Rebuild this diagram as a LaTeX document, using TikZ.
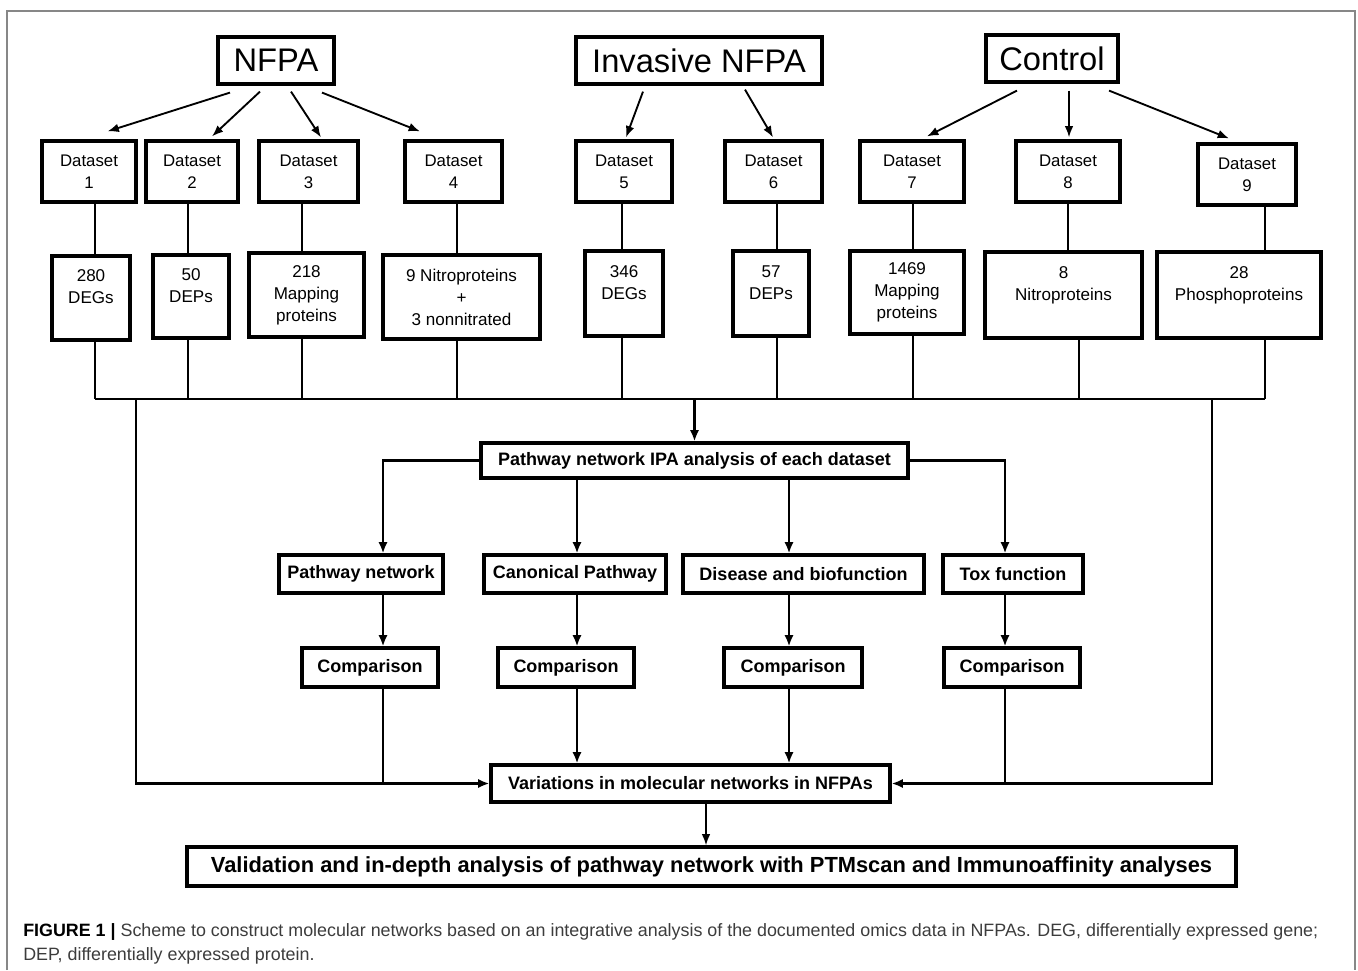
\documentclass[tikz,border=0pt]{standalone}
\usepackage{fontspec}
\setmainfont{Liberation Sans}
\usetikzlibrary{positioning,calc,arrows.meta}
\definecolor{framegray}{RGB}{135,135,135}
\definecolor{capgray}{RGB}{60,60,60}

\begin{document}
\begin{tikzpicture}[x=0.75pt,y=-0.75pt,
    box/.style={draw,line width=2.4pt,inner sep=0pt,align=center},
    group/.style={box,font=\fontsize{24.5}{29}\selectfont,minimum height=35.25pt},
    dset/.style={box,font=\fontsize{12.6}{16.5}\selectfont,minimum height=45.75pt},
    res/.style={box,font=\fontsize{12.8}{16.5}\selectfont},
    bbox/.style={box,font=\bfseries\fontsize{13.5}{16}\selectfont},
    link/.style={line width=2.2pt},
    arr/.style={link,-{Latex[length=8.5pt,width=7pt]}},
    thin/.style={line width=1.4pt,-{Latex[length=8.5pt,width=6.5pt]}}]
    \useasboundingbox (0,0) rectangle (1358,970);
    \draw[framegray,line width=1.5pt] (7,970) -- (7,11) -- (1355,11) -- (1355,970);

    \node[group,minimum width=87pt] (nfpa) at (276,60.5) {NFPA};
    \node[group,minimum width=184.5pt] (inv) at (699,60.5) {Invasive NFPA};
    \node[group,minimum width=99pt] (ctrl) at (1052,58.5) {Control};

    \node[dset,minimum width=70.5pt] (d1) at (89,171.5) {Dataset\\1};
    \node[dset,minimum width=69pt] (d2) at (192,171.5) {Dataset\\2};
    \node[dset,minimum width=74.25pt] (d3) at (308.5,171.5) {Dataset\\3};
    \node[dset,minimum width=72.75pt] (d4) at (453.5,171.5) {Dataset\\4};
    \node[dset,minimum width=72pt] (d5) at (624,171.5) {Dataset\\5};
    \node[dset,minimum width=72.75pt] (d6) at (773.5,171.5) {Dataset\\6};
    \node[dset,minimum width=78pt] (d7) at (912,171.5) {Dataset\\7};
    \node[dset,minimum width=78pt] (d8) at (1068,171.5) {Dataset\\8};
    \node[dset,minimum width=73.5pt] (d9) at (1247,174.5) {Dataset\\9};

    \node[res,minimum width=58.5pt,minimum height=63pt] (r1) at (91,298) {280\\DEGs\\~};
    \node[res,minimum width=57pt,minimum height=62.25pt] (r2) at (191,296.5) {50\\DEPs\\~};
    \node[res,minimum width=86.25pt,minimum height=63pt] (r3) at (306.5,295) {218\\Mapping\\proteins};
    \node[res,minimum width=117.75pt,minimum height=63pt] (r4) at (461.5,297) {9 Nitroproteins\\+\\3 nonnitrated};
    \node[res,minimum width=58.5pt,minimum height=63.75pt] (r5) at (624,293.5) {346\\DEGs\\~};
    \node[res,minimum width=57pt,minimum height=63.75pt] (r6) at (771,293.5) {57\\DEPs\\~};
    \node[res,minimum width=85.5pt,minimum height=62.25pt] (r7) at (907,292.5) {1469\\Mapping\\proteins};
    \node[res,minimum width=117.75pt,minimum height=64.5pt] (r8) at (1063.5,295) {8\\Nitroproteins\\~};
    \node[res,minimum width=123pt,minimum height=64.5pt] (r9) at (1239,295) {28\\Phosphoproteins\\~};

    \node[bbox,minimum width=320.25pt,minimum height=26.25pt] (ipa) at (694.5,460.5) {Pathway network IPA analysis of each dataset};
    \node[bbox,minimum width=123pt,minimum height=28.5pt] (pn) at (361,574) {Pathway network};
    \node[bbox,minimum width=136.5pt,minimum height=28.5pt] (cp) at (575,574) {Canonical Pathway};
    \node[bbox,minimum width=180.75pt,minimum height=28.5pt] (db) at (803.5,574) {Disease and biofunction};
    \node[bbox,minimum width=105pt,minimum height=28.5pt] (tf) at (1013,574) {Tox function};
    \node[bbox,minimum width=102pt,minimum height=29.25pt] (c1) at (370,667.5) {Comparison};
    \node[bbox,minimum width=102pt,minimum height=29.25pt] (c2) at (566,667.5) {Comparison};
    \node[bbox,minimum width=103.5pt,minimum height=29.25pt] (c3) at (793,667.5) {Comparison};
    \node[bbox,minimum width=102pt,minimum height=29.25pt] (c4) at (1012,667.5) {Comparison};
    \node[bbox,minimum width=299.25pt,minimum height=27.75pt] (var) at (690.5,783.5) {Variations in molecular networks in NFPAs};
    \node[box,font=\bfseries\fontsize{16.4}{19}\selectfont,minimum width=786.75pt,minimum height=29.25pt] (val) at (711.5,866.5)
        {Validation and in-depth analysis of pathway network with PTMscan and Immunoaffinity analyses};

    \draw[thin] ($(nfpa.south)+(-46,7)$) -- ($(d1.north)+(18.5,-8)$);
    \draw[thin] ($(nfpa.south)+(-16,6)$) -- ($(d2.north)+(20,-3)$);
    \draw[thin] ($(nfpa.south)+(15,6)$) -- ($(d3.north)+(12.5,-2)$);
    \draw[thin] ($(nfpa.south)+(46,7)$) -- ($(d4.north)+(-33.5,-8)$);
    \draw[thin] ($(inv.south)+(-56,6)$) -- ($(d5.north)+(2,-2)$);
    \draw[thin] ($(inv.south)+(46,4)$) -- ($(d6.north)+(-0.5,-2)$);
    \draw[thin] ($(ctrl.south)+(-35,7)$) -- ($(d7.north)+(15,-3)$);
    \draw[thin] ($(ctrl.south)+(17,7)$) -- ($(d8.north)+(1,-2)$);
    \draw[thin] ($(ctrl.south)+(57,7)$) -- ($(d9.north)+(-18,-4)$);

    \coordinate (busl) at (95,399);
    \coordinate (busr) at (1265,399);
    \foreach \n/\a/\b in {1/95/95,2/188/188,3/302/302,4/457/457,5/622/622,6/777/777,7/913/913,8/1068/1079,9/1265/1265}{
        \draw[link] (d\n.south -| \a,0) -- (r\n.north -| \a,0);
        \draw[link] (r\n.south -| \b,0) -- (\b,0 |- busl);
    }
    \draw[link] (busl) -- (busr);

    \coordinate (railL) at (136,399);
    \coordinate (railR) at (1212,399);
    \coordinate (k1) at (383,0);
    \coordinate (k2) at (577,0);
    \coordinate (k3) at (789,0);
    \coordinate (k4) at (1005,0);
    \coordinate (k5) at (706,0);

    \draw[arr] (ipa.north |- busl) -- (ipa.north);
    \draw[arr] (ipa.west) -| (pn.north -| k1);
    \draw[arr] (ipa.south -| k2) -- (cp.north -| k2);
    \draw[arr] (ipa.south -| k3) -- (db.north -| k3);
    \draw[arr] (ipa.east) -| (tf.north -| k4);
    \draw[arr] (pn.south -| k1) -- (c1.north -| k1);
    \draw[arr] (cp.south -| k2) -- (c2.north -| k2);
    \draw[arr] (db.south -| k3) -- (c3.north -| k3);
    \draw[arr] (tf.south -| k4) -- (c4.north -| k4);

    \draw[arr] (railL) |- (var.west);
    \draw[arr] (railR) |- (var.east);
    \draw[link] (c1.south -| k1) -- (k1 |- var.west);
    \draw[link] (c4.south -| k4) -- (k4 |- var.east);
    \draw[arr] (c2.south -| k2) -- (var.north -| k2);
    \draw[arr] (c3.south -| k3) -- (var.north -| k3);
    \draw[thin] (var.south -| k5) -- (val.north -| k5);

    \node[anchor=base west,font=\fontsize{13.4}{16}\selectfont,text=capgray,inner sep=0pt] (cap1) at (23,936)
        {\textcolor{black}{\textbf{FIGURE 1 |}} Scheme to construct molecular networks based on an integrative analysis of the documented omics data in NFPAs. DEG, differentially expressed gene;};
    \node[anchor=base west,font=\fontsize{13.4}{16}\selectfont,text=capgray,inner sep=0pt] (cap2) at (23,960)
        {DEP, differentially expressed protein.};
\end{tikzpicture}
\end{document}
